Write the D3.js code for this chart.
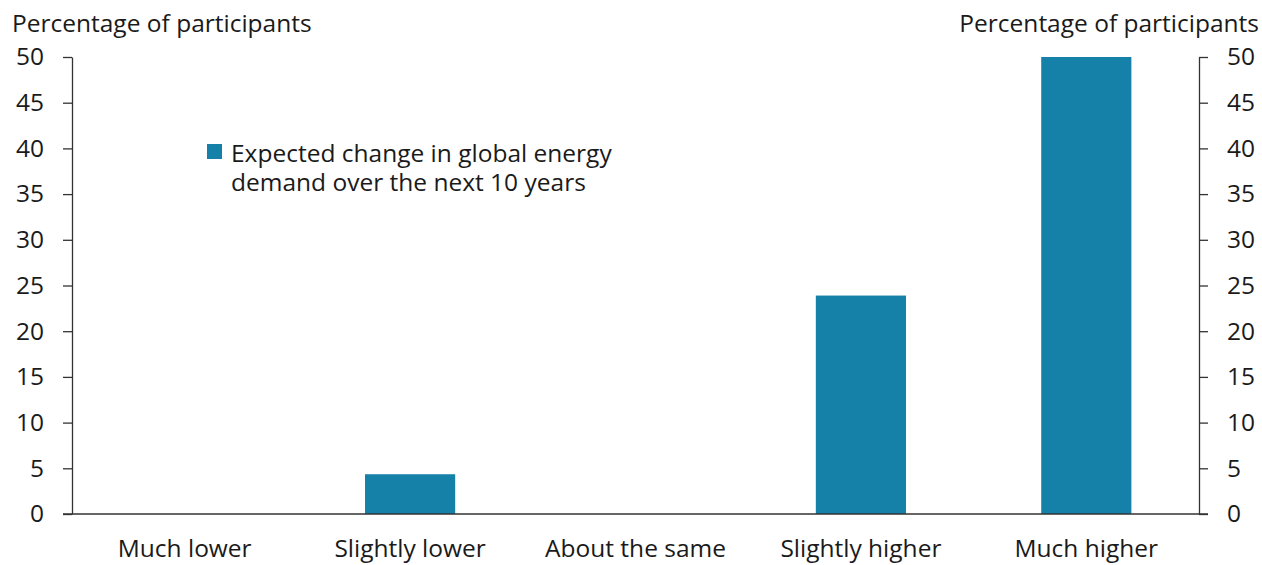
<!DOCTYPE html>
<html>
<head>
<meta charset="utf-8">
<script src="https://cdn.jsdelivr.net/npm/d3@7"></script>
<style>
  html, body { margin: 0; padding: 0; background: #fff; }
  svg { display: block; }
  text { font-family: "Open Sans", sans-serif; fill: #1a1a1a; }
</style>
</head>
<body>
<svg id="chart" width="1262" height="565"></svg>
<script>
const categories = ["Much lower", "Slightly lower", "About the same", "Slightly higher", "Much higher"];
const values = [0, 4.35, 0, 23.9, 50];
const yTicks = [0, 5, 10, 15, 20, 25, 30, 35, 40, 45, 50];
const seriesName = ["Expected change in global energy", "demand over the next 10 years"];
const axisTitle = "Percentage of participants";

(function () {
const svg = d3.select("#chart");
const mLeft = 72, mRight = 1199, mTop = 57, mBottom = 514;
const fs = 24.5;
const ff = "'Open Sans', sans-serif";
const barColor = "#1580a8";

const x = d3.scaleBand().domain(categories).range([mLeft, mRight]).paddingInner(0.6).paddingOuter(0.3);
const y = d3.scaleLinear().domain([0, 50]).range([mBottom, mTop]);

// bars
svg.append("g").selectAll("rect").data(values).join("rect")
  .attr("x", (d, i) => x(categories[i]))
  .attr("width", x.bandwidth())
  .attr("y", d => y(d))
  .attr("height", d => y(0) - y(d))
  .attr("fill", barColor);

// left axis
const yl = d3.axisLeft(y).tickValues(yTicks).tickSize(9).tickPadding(19).tickSizeOuter(0);
const gl = svg.append("g").attr("transform", `translate(${mLeft},0)`).call(yl);
// right axis
const yr = d3.axisRight(y).tickValues(yTicks).tickSize(9).tickPadding(19).tickSizeOuter(0);
const gr = svg.append("g").attr("transform", `translate(${mRight},0)`).call(yr);

[gl, gr].forEach(g => {
  g.select(".domain").attr("stroke", "#333").attr("stroke-width", 1.3);
  g.selectAll(".tick line").attr("stroke", "#333").attr("stroke-width", 1.3);
  g.selectAll(".tick text").attr("font-size", fs).attr("font-family", ff).attr("fill", "#1a1a1a");
});

// x axis
const xa = d3.axisBottom(x).tickSize(0).tickPadding(26);
const gx = svg.append("g").attr("transform", `translate(0,${mBottom})`).call(xa);
gx.select(".domain").remove();
gx.selectAll(".tick text").attr("font-size", fs).attr("font-family", ff).attr("fill", "#1a1a1a");
svg.append("line").attr("x1", mLeft - 9).attr("x2", mRight + 9).attr("y1", y(0)).attr("y2", y(0))
  .attr("stroke", "#333").attr("stroke-width", 1.3);

// axis titles
svg.append("text").attr("x", 12).attr("y", 32).attr("font-size", fs).text(axisTitle);
svg.append("text").attr("x", 1259).attr("y", 32).attr("font-size", fs).attr("text-anchor", "end").text(axisTitle);

// legend
svg.append("rect").attr("x", 207).attr("y", 144).attr("width", 15).attr("height", 15).attr("fill", barColor);
svg.append("text").attr("x", 231).attr("y", 162).attr("font-size", fs)
  .selectAll("tspan").data(seriesName).join("tspan")
  .attr("x", 231).attr("dy", (d, i) => i === 0 ? 0 : 29).text(d => d);
})();
</script>
</body>
</html>
